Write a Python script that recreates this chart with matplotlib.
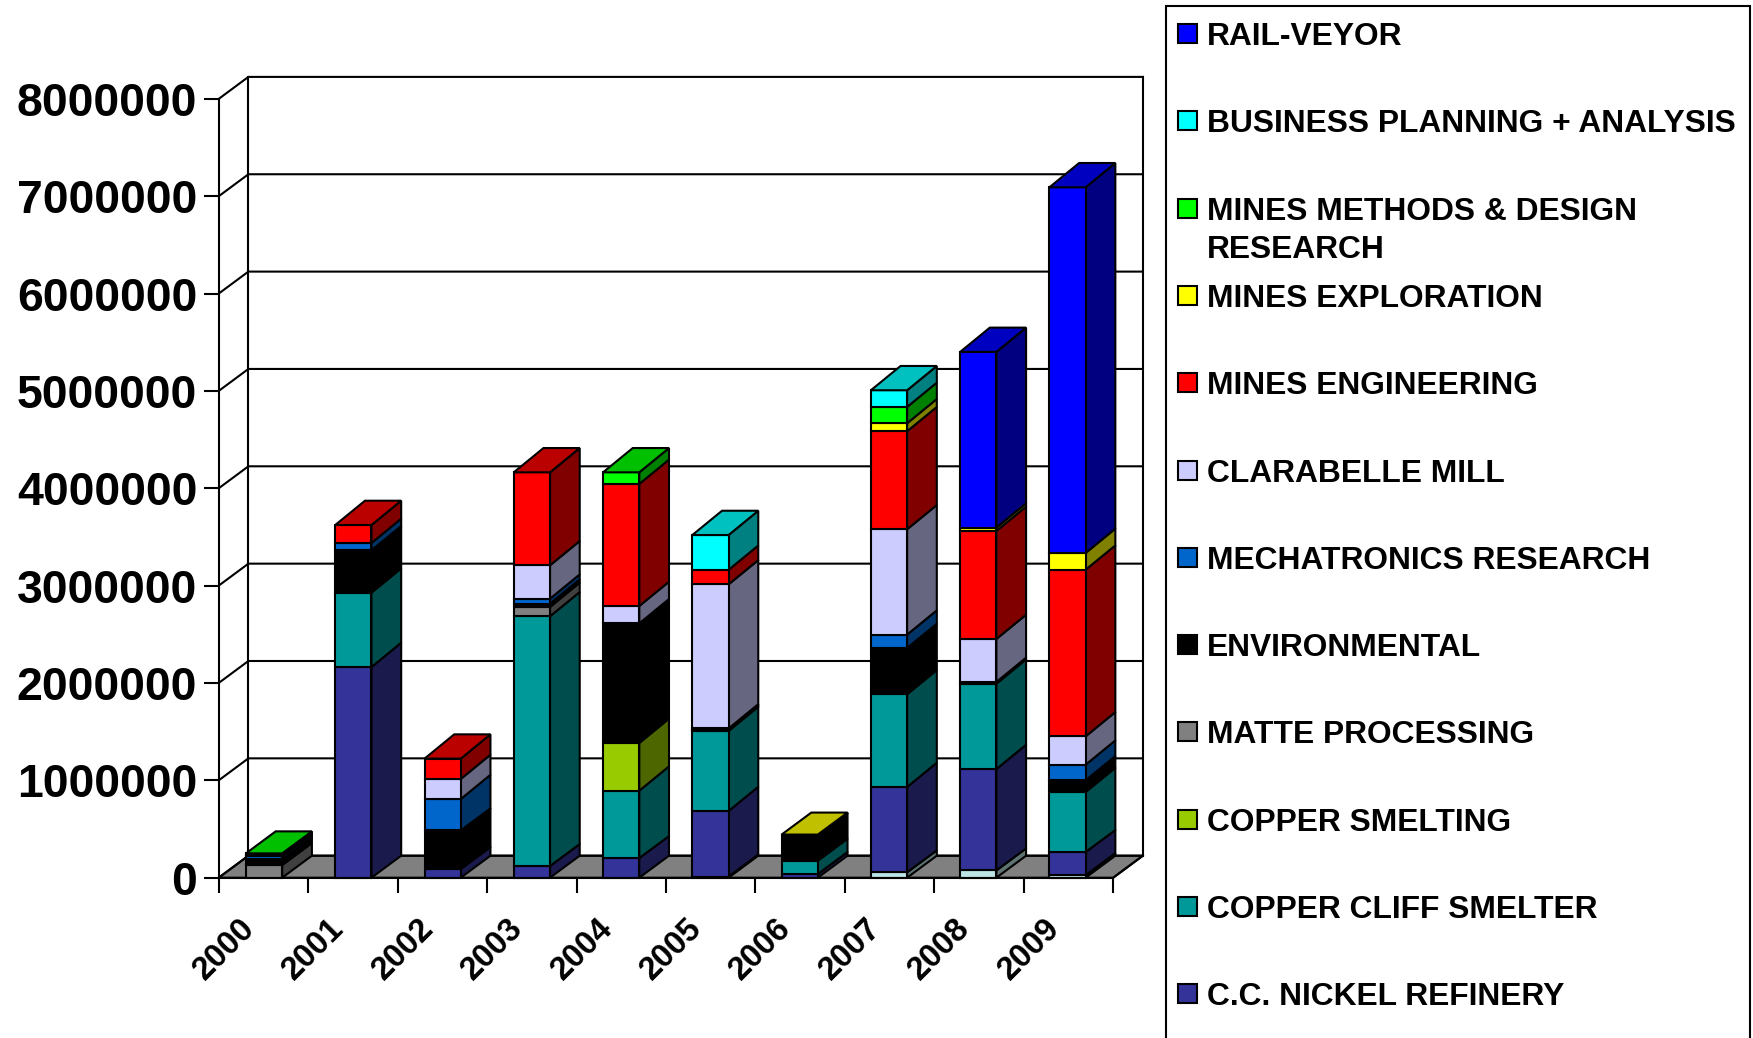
import matplotlib
matplotlib.use("Agg")
import matplotlib.pyplot as plt
from matplotlib.patches import Rectangle
from matplotlib.transforms import ScaledTranslation

plt.rcParams['font.family'] = ['Liberation Sans', 'DejaVu Sans']

years = ['2000', '2001', '2002', '2003', '2004', '2005', '2006', '2007', '2008', '2009']
y_ticks = [0, 1000000, 2000000, 3000000, 4000000, 5000000, 6000000, 7000000, 8000000]

# Yearly spending per department, bottom of the stack first.
unlabelled =   [0, 0, 0, 0, 0, 12000, 0, 55000, 75000, 27000]
nickel =       [0, 2164000, 89000, 120000, 202000, 673000, 38000, 877000, 1041000, 237000]
smelter =      [0, 764000, 0, 2565000, 692000, 822000, 137000, 952000, 877000, 616000]
cu_smelting =  [0, 0, 0, 0, 490000, 12000, 0, 0, 0, 0]
matte =        [130000, 0, 0, 96000, 0, 0, 0, 0, 0, 0]
environment =  [58000, 435000, 397000, 34000, 1229000, 14000, 263000, 476000, 18000, 120000]
mechatronics = [30000, 75000, 322000, 51000, 0, 0, 0, 137000, 0, 161000]
clarabelle =   [0, 0, 206000, 343000, 178000, 1480000, 0, 1082000, 441000, 291000]
engineering =  [24000, 185000, 209000, 955000, 1254000, 150000, 0, 1007000, 1110000, 1712000]
exploration =  [0, 0, 0, 0, 0, 0, 5000, 82000, 34000, 172000]
methods =      [8000, 0, 0, 0, 119000, 0, 0, 168000, 0, 0]
planning =     [0, 0, 0, 0, 0, 357000, 0, 171000, 0, 0]
railveyor =    [0, 0, 0, 0, 0, 0, 0, 0, 1805000, 3756000]

series_values = [unlabelled, nickel, smelter, cu_smelting, matte, environment,
                 mechatronics, clarabelle, engineering, exploration, methods,
                 planning, railveyor]

# Front, side and top shades of each stacked segment.
front_colors = ['#BCE4E4', '#333399', '#009999', '#99CC00', '#808080', '#000000',
                '#0066CC', '#CCCCFF', '#FF0000', '#FFFF00', '#00FF00', '#00FFFF', '#0000FF']
side_colors = ['#5E7272', '#1A1A4D', '#004D4D', '#4D6600', '#404040', '#000000',
               '#003366', '#666680', '#800000', '#808000', '#008000', '#008080', '#000080']
top_colors = ['#8DABAB', '#262673', '#007373', '#739900', '#606060', '#000000',
              '#004D99', '#9999BF', '#BB0000', '#C0C000', '#00C000', '#00C0C0', '#0000C0']

legend_labels = ['RAIL-VEYOR', 'BUSINESS PLANNING + ANALYSIS',
                 'MINES METHODS & DESIGN\nRESEARCH', 'MINES EXPLORATION',
                 'MINES ENGINEERING', 'CLARABELLE MILL', 'MECHATRONICS RESEARCH',
                 'ENVIRONMENTAL', 'MATTE PROCESSING', 'COPPER SMELTING',
                 'COPPER CLIFF SMELTER', 'C.C. NICKEL REFINERY']
legend_colors = ['#0000FF', '#00FFFF', '#00FF00', '#FFFF00', '#FF0000', '#CCCCFF',
                 '#0066CC', '#000000', '#808080', '#99CC00', '#009999', '#333399']

W, H = 1753, 1038
LW = 1.5

fig = plt.figure(figsize=(W / 100, H / 100), dpi=100, facecolor='white')

# Plot axes span the front plane of the chart box.
left, right, bottom, top = 218.7, 1113.2, 877.7, 98.9
ax = fig.add_axes([left / W, 1 - bottom / H, (right - left) / W, (bottom - top) / H])
ax.set_xlim(0, 10)
ax.set_ylim(0, 8000000)
ax.patch.set_visible(False)

# Oblique depth of the box and of the bars, in data units.
px_per_value = (bottom - top) / 8000000
depth_x = 29.7 / ((right - left) / 10)
depth_y = 22.0 / px_per_value
bar_depth_y = 24.3 / px_per_value
short_stack = 500000
bar_width = 0.405
bar_pitch = 0.998
bar_offset = 0.305
ymax = y_ticks[-1]
nyears = len(years)

# Floor and back-wall framing.
ax.fill([0, nyears, nyears + depth_x, depth_x], [0, 0, depth_y, depth_y],
        facecolor='#808080', edgecolor='black', linewidth=LW, clip_on=False, zorder=1)
for v in y_ticks:
    ax.plot([0, depth_x, nyears + depth_x], [v, v + depth_y, v + depth_y],
            color='black', lw=LW, clip_on=False, zorder=1.5, solid_joinstyle='miter')
for x in (depth_x, nyears + depth_x):
    ax.plot([x, x], [depth_y, ymax + depth_y], color='black', lw=LW, clip_on=False, zorder=1.5)
ax.plot([nyears, nyears + depth_x], [0, depth_y], color='black', lw=LW, clip_on=False, zorder=1.5)

# Stacked bars with oblique side and top faces.
for i in range(nyears):
    x0 = i * bar_pitch + bar_offset
    x1 = x0 + bar_width
    base = 0
    last = None
    for k, vals in enumerate(series_values):
        v = vals[i]
        if v <= 0:
            continue
        # Low levels sit on the floor plane, a little shallower than the taller parts.
        lower_depth = depth_y if base < short_stack else bar_depth_y
        upper_depth = depth_y if base + v < short_stack else bar_depth_y
        ax.fill([x1, x1 + depth_x, x1 + depth_x, x1],
                [base, base + lower_depth, base + v + upper_depth, base + v],
                facecolor=side_colors[k], edgecolor='black', linewidth=LW,
                clip_on=False, zorder=3, joinstyle='miter')
        ax.bar(x0, v, width=bar_width, bottom=base, align='edge', color=front_colors[k],
               edgecolor='black', linewidth=LW, clip_on=False, zorder=3)
        base += v
        last = k
    top_depth = depth_y if base < short_stack else bar_depth_y
    ax.fill([x0, x1, x1 + depth_x, x0 + depth_x],
            [base, base, base + top_depth, base + top_depth],
            facecolor=top_colors[last], edgecolor='black', linewidth=LW,
            clip_on=False, zorder=3, joinstyle='miter')

# Axes, ticks and labels.
for name in ('top', 'right'):
    ax.spines[name].set_visible(False)
for name in ('left', 'bottom'):
    ax.spines[name].set_linewidth(LW)
    ax.spines[name].set_zorder(4)

ax.set_yticks(y_ticks)
ax.set_yticklabels([str(v) for v in y_ticks], fontsize=33.4, fontweight='bold')
ax.set_xticks(range(nyears + 1))
ax.set_xticklabels(years + [''], fontsize=23.5, fontweight='bold', rotation=45, ha='center')
ax.tick_params(axis='y', length=11, width=LW, pad=4.5)
ax.tick_params(axis='x', length=11, width=LW, pad=14)
nudge = ScaledTranslation(5.5 / 100, 0, fig.dpi_scale_trans)
for label in ax.get_xticklabels():
    label.set_transform(label.get_transform() + nudge)

# Key, in pixel coordinates of the figure; its frame runs past the lower edge.
overlay = fig.add_axes([0, 0, 1, 1])
overlay.set_xlim(0, W)
overlay.set_ylim(H, 0)
overlay.axis('off')
overlay.patch.set_visible(False)
overlay.add_patch(Rectangle((1166, 6), 584, 1100, facecolor='white', edgecolor='black',
                            linewidth=LW, zorder=1))
row_y = 33.5
row_step = 87.3
for label, color in zip(legend_labels, legend_colors):
    overlay.add_patch(Rectangle((1178, row_y - 9.5), 19, 19, facecolor=color,
                                edgecolor='black', linewidth=LW, zorder=2))
    first_line, *rest = label.split('\n')
    overlay.text(1207, row_y, first_line, fontsize=22.9, fontweight='bold',
                 va='center_baseline', ha='left', zorder=2)
    if rest:
        overlay.text(1207, row_y + 38, rest[0], fontsize=22.9, fontweight='bold',
                     va='center_baseline', ha='left', zorder=2)
    row_y += row_step

fig.savefig('out.png', dpi=100, facecolor='white')
